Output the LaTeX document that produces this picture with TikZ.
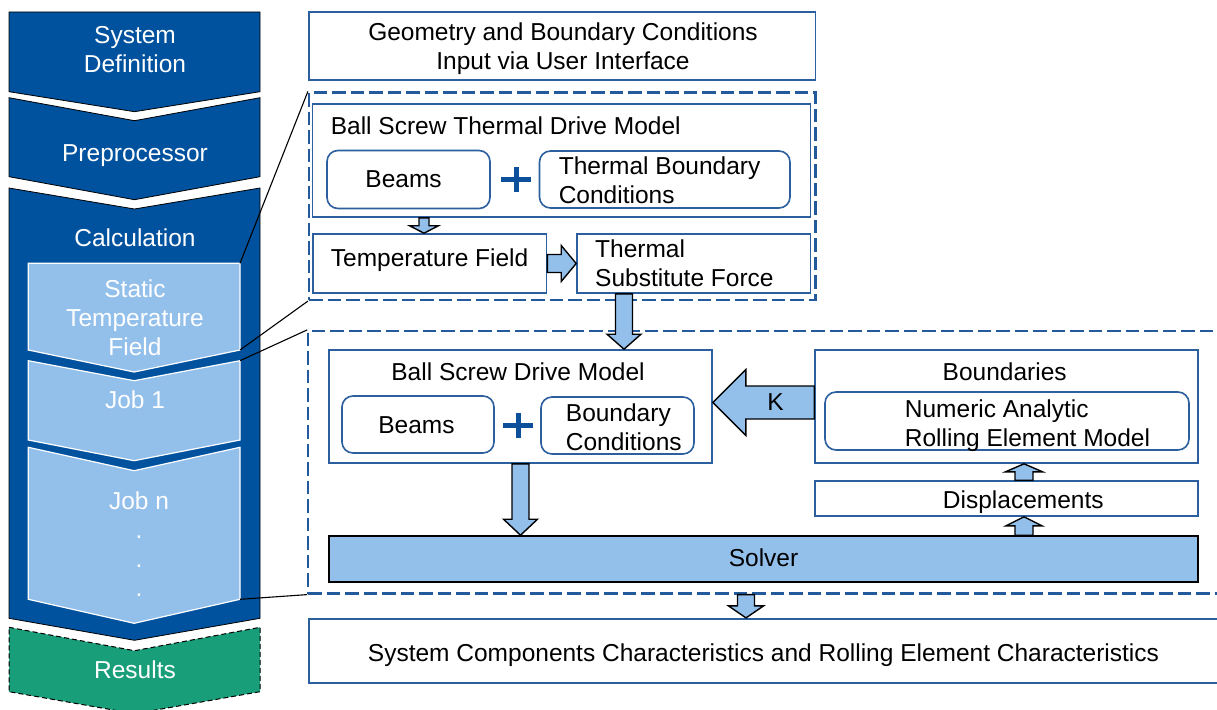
\documentclass[tikz,border=0pt]{standalone}
\usepackage{fontspec}
\setmainfont{Liberation Sans}
\usetikzlibrary{calc}

\definecolor{deepblue}{RGB}{0,82,158}
\definecolor{paleblue}{RGB}{147,191,235}
\definecolor{edgeblue}{RGB}{44,95,158}
\definecolor{dashblue}{RGB}{35,90,155}
\definecolor{resgreen}{RGB}{25,158,122}
\definecolor{plusblue}{RGB}{12,80,156}

\tikzset{
  box/.style={draw=edgeblue, line width=1.6pt, fill=white, inner sep=0pt},
  rbox/.style={box, rounded corners=11pt},
  region/.style={draw=dashblue, line width=2.2pt, dash pattern=on 13.5pt off 5pt, inner sep=0pt},
  solverbox/.style={draw=black, line width=1.6pt, fill=paleblue, inner sep=0pt},
  txt/.style={inner sep=0pt, font=\fontsize{24.5}{29}\selectfont, text height=17.5pt, text depth=0pt},
  txttwo/.style={txt, text height=46.5pt},
  txtthree/.style={txt, text height=75.5pt},
  txtfour/.style={txt, text height=104.5pt},
  wtxt/.style={text=white},
  blk/.style={draw=black, line width=1.4pt, fill=paleblue, line join=miter},
  link/.style={draw=black, line width=1.1pt},
  plusbar/.style={draw=plusblue, line width=5pt},
  chevdark/.style={fill=deepblue, draw=black, line width=0.8pt},
  chevpale/.style={fill=paleblue, draw=white, line width=1.2pt},
  chevres/.style={fill=resgreen, draw=black, line width=1pt, dash pattern=on 5pt off 3pt},
}

% chevron panel: style, left x, right x, top y, top notch depth, bottom y, bottom point depth
\newcommand\chevron[7]{%
  \path[#1] (#2,#4) -- ({(#2+#3)/2},{#4+#5}) -- (#3,#4) -- (#3,#6)
    -- ({(#2+#3)/2},{#6+#7}) -- (#2,#6) -- cycle;}

% vertical block arrow: from, tip, shaft half width, head half width, signed head length
\newcommand\varrow[5]{%
  \draw[blk] let \p1=(#1), \p2=(#2) in
    ({\x2-#3pt},{\y1}) -- ({\x2+#3pt},{\y1}) -- ({\x2+#3pt},{\y2+#5pt}) -- ({\x2+#4pt},{\y2+#5pt})
    -- ({\x2},{\y2}) -- ({\x2-#4pt},{\y2+#5pt}) -- ({\x2-#3pt},{\y2+#5pt}) -- cycle;}

% horizontal block arrow: from, tip, shaft half width, head half width, signed head length
\newcommand\harrow[5]{%
  \draw[blk] let \p1=(#1), \p2=(#2) in
    ({\x1},{\y2+#3pt}) -- ({\x2-#5pt},{\y2+#3pt}) -- ({\x2-#5pt},{\y2+#4pt}) -- ({\x2},{\y2})
    -- ({\x2-#5pt},{\y2-#4pt}) -- ({\x2-#5pt},{\y2-#3pt}) -- ({\x1},{\y2-#3pt}) -- cycle;}

\begin{document}
\begin{tikzpicture}[x=1pt,y=-1pt]
\useasboundingbox (0,0) rectangle (1217,709);
\clip (0,0) rectangle (1217,709);

% ---- process column ----
\chevron{chevdark}{9}{260}{12}{0}{91.7}{20}
\chevron{chevdark}{9}{260}{97.7}{23}{176.7}{23}
\chevron{chevdark}{9}{260}{188}{21}{618.3}{22}
\chevron{chevres}{9}{260}{627.3}{23.4}{691.7}{22}
\chevron{chevpale}{28.3}{240}{263.3}{0}{350}{22}
\chevron{chevpale}{28.3}{240}{360.7}{20}{440}{20.7}
\chevron{chevpale}{28.3}{240}{447.3}{23.4}{599.3}{24}

\coordinate (stNE) at (240,263.3);
\coordinate (stSE) at (240,350);
\coordinate (joNE) at (240,360.7);
\coordinate (jnSE) at (240,599.3);

\node[txttwo, wtxt, align=center] (sysdef) at (135,49.2) {System\\Definition};
\node[txt, wtxt] (prep) at (135,152.3) {Preprocessor};
\node[txt, wtxt] (calc) at (135,237.3) {Calculation};
\node[txtthree, wtxt, align=center] (stat) at (135,318) {Static\\Temperature\\Field};
\node[txt, wtxt] (jobone) at (135,400) {Job 1};
\node[txtfour, wtxt, align=center] (jobn) at (139,544.5) {Job n\\.\\.\\.};
\node[txt, wtxt] (res) at (135,670) {Results};

% ---- dashed model regions ----
\node[region, minimum width=506.5pt, minimum height=207.5pt] (thermal) at (562.25,196.25) {};
\node[region, minimum width=931.7pt, minimum height=262.5pt] (mech) at (774.15,462.25) {};

\draw[link] (stNE) -- (thermal.north west);
\draw[link] (stSE) -- (thermal.south west);
\draw[link] (joNE) -- (mech.north west);
\draw[link] (jnSE) -- (mech.south west);

% ---- boxes ----
\node[box, minimum width=506.5pt, minimum height=68pt] (geom) at (562.25,46) {};
\node[box, minimum width=498pt, minimum height=113pt] (bstdm) at (561.5,160.5) {};
\node[rbox, minimum width=163pt, minimum height=58pt] (beamsA) at (408.5,179.5) {};
\node[rbox, minimum width=250.5pt, minimum height=57pt] (tbc) at (664.75,179.5) {};
\node[box, minimum width=233.5pt, minimum height=59pt] (tf) at (429.75,263.5) {};
\node[box, minimum width=233.5pt, minimum height=59pt] (tsf) at (693.75,263.5) {};

\node[box, minimum width=383pt, minimum height=113pt] (bsdm) at (520.5,406.5) {};
\node[rbox, minimum width=152pt, minimum height=57pt] (beamsB) at (418,424.5) {};
\node[rbox, minimum width=153pt, minimum height=57pt] (bc) at (617.5,425.5) {};
\node[box, minimum width=383pt, minimum height=113pt] (bnd) at (1006.5,406.5) {};
\node[rbox, minimum width=364pt, minimum height=58pt] (nra) at (1007,421) {};
\node[box, minimum width=383pt, minimum height=35pt] (disp) at (1006.5,498.5) {};
\node[solverbox, minimum width=869pt, minimum height=46pt] (solver) at (763.5,559) {};
\node[box, minimum width=931pt, minimum height=64pt] (final) at (774.5,650.7) {};

% ---- block arrows ----
\coordinate (aone) at ([xshift=-5.75pt]tf.north);
\varrow{bstdm.south -| aone}{aone}{5}{14.5}{7.5}
\harrow{tf.east}{tsf.west}{9}{18}{15}
\coordinate (athree) at ([xshift=103.5pt]bsdm.north);
\varrow{tsf.south -| athree}{athree}{8.5}{17}{15}
\varrow{bsdm.south}{bsdm.south |- solver.north}{8.5}{17}{16}
\coordinate (afive) at ([xshift=17.5pt]disp.south);
\varrow{solver.north -| afive}{afive}{9}{18}{-9}
\varrow{afive |- disp.north}{afive |- bnd.south}{9}{18.5}{-8}
\coordinate (aseven) at ([yshift=4pt]bnd.west);
\harrow{aseven}{bsdm.east |- aseven}{16.5}{33}{-33}
\coordinate (aeight) at ([xshift=-17.5pt]solver.south |- final.north);
\varrow{aeight |- mech.south}{aeight}{8.5}{17.5}{12}

% ---- plus signs ----
\coordinate (plusA) at (516,179.5);
\coordinate (plusB) at (518.3,425);
\draw[plusbar] ([xshift=-15pt]plusA) -- ([xshift=15pt]plusA);
\draw[plusbar] ([yshift=-12.5pt]plusA) -- ([yshift=12.5pt]plusA);
\draw[plusbar] ([xshift=-15pt]plusB) -- ([xshift=15pt]plusB);
\draw[plusbar] ([yshift=-12.5pt]plusB) -- ([yshift=12.5pt]plusB);

% ---- labels ----
\node[txttwo, align=center] (geomt) at (563,45.9) {Geometry and Boundary Conditions\\Input via User Interface};
\node[txt, anchor=west] (bstdmt) at (330.6,126) {Ball Screw Thermal Drive Model};
\node[txt] (beamsAt) at (403.6,179) {Beams};
\node[txttwo, align=left, anchor=west] (tbct) at (558.6,180.3) {Thermal Boundary\\Conditions};
\node[txt, anchor=west] (tft) at (330.7,257.5) {Temperature Field};
\node[txttwo, align=left, anchor=west] (tsft) at (595,263.5) {Thermal\\Substitute Force};

\node[txt] (bsdmt) at (518,372) {Ball Screw Drive Model};
\node[txt] (beamsBt) at (416.5,424.3) {Beams};
\node[txttwo, align=left, anchor=west] (bct) at (565.7,427.5) {Boundary\\Conditions};
\node[txt] (bndt) at (1004.7,372) {Boundaries};
\node[txttwo, align=left, anchor=west] (nrat) at (904.7,422.8) {Numeric Analytic\\Rolling Element Model};
\node[txt] (klabel) at (775.5,401.7) {K};
\node[txt] (dispt) at (1023.3,500) {Displacements};
\node[txt] (solvert) at (763.5,558) {Solver};
\node[txt] (finalt) at (763.5,653) {System Components Characteristics and Rolling Element Characteristics};
\end{tikzpicture}
\end{document}
